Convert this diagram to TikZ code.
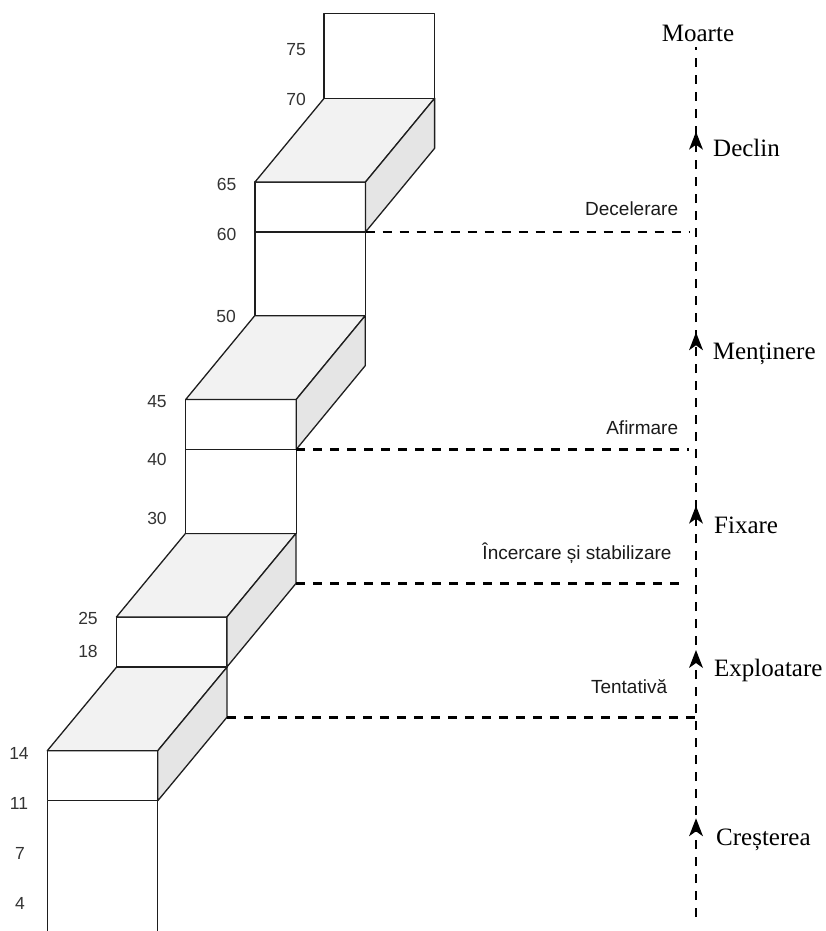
\documentclass[tikz,border=0pt]{standalone}
\usepackage{fontspec}
\setmainfont{Liberation Serif}
\setsansfont{Liberation Sans}
\usetikzlibrary{arrows.meta}

\definecolor{topface}{HTML}{F2F2F2}
\definecolor{sideface}{HTML}{E5E5E5}
\definecolor{edgeink}{HTML}{1E1E1E}
\definecolor{numink}{HTML}{333333}
\definecolor{stageink}{HTML}{1A1A1A}

% block geometry (front width, front height, depth offset)
\def\blockw{110.5}
\def\blockh{50}
\def\blockdx{69.1}

% one step of the staircase: front face, top face and right side face
% #1 name, #2 left x, #3 front top y, #4 back top y
\newcommand{\levelblock}[4]{%
  \coordinate (#1-fl)  at (#2,#3);
  \coordinate (#1-fr)  at ({#2+\blockw},#3);
  \coordinate (#1-bl)  at ({#2+\blockdx},#4);
  \coordinate (#1-br)  at ({#2+\blockw+\blockdx},#4);
  \coordinate (#1-fbr) at ({#2+\blockw},{#3+\blockh});
  \coordinate (#1-bbr) at ({#2+\blockw+\blockdx},{#4+\blockh});
  \filldraw[frontface] (#1-fl) rectangle (#1-fbr);
  \filldraw[topfacest] (#1-fl) -- (#1-bl) -- (#1-br) -- (#1-fr) -- cycle;
  \filldraw[sidefacest] (#1-fr) -- (#1-br) -- (#1-bbr) -- (#1-fbr) -- cycle;
}

\begin{document}
\begin{tikzpicture}[x=1pt,y=-1pt,
  edgeline/.style={draw=edgeink,line width=1.3pt,line join=round},
  frontface/.style={edgeline,fill=white},
  topfacest/.style={edgeline,fill=topface},
  sidefacest/.style={edgeline,fill=sideface},
  phase/.style={draw=black,line width=2.8pt,dash pattern=on 9pt off 8pt},
  agelabel/.style={inner sep=0pt,anchor=base,text=numink,font=\fontsize{17.5}{20}\sffamily},
  phaselabel/.style={inner sep=0pt,anchor=base east,text=stageink,font=\fontsize{19}{22}\sffamily},
  stagelabel/.style={inner sep=0pt,anchor=base west,text=black,font=\fontsize{25}{28}\selectfont}]

\useasboundingbox (0,0) rectangle (825,931);

% lowest column (0-11), open at the bottom
\draw[edgeline] (47.3,931) -- (47.3,800.7) -- (157.8,800.7) -- (157.8,931);

% staircase of blocks
\levelblock{sA}{47.3}{750.7}{667.3}
\levelblock{sB}{116.4}{617}{533.4}
\filldraw[frontface] (185.7,449.5) rectangle (296.2,533.4);
\levelblock{sC}{185.7}{399.5}{315.6}
\filldraw[frontface] (255,232) rectangle (365.5,315.6);
\levelblock{sD}{255}{182}{98.3}
\filldraw[frontface] (323.9,13.3) rectangle (434.4,98.3);

% age marks
\node[agelabel] (a75) at (296,55.7) {75};
\node[agelabel] (a70) at (296,105.7) {70};
\node[agelabel] (a65) at (226.5,190.7) {65};
\node[agelabel] (a60) at (226.5,240) {60};
\node[agelabel] (a50) at (226,322.7) {50};
\node[agelabel] (a45) at (157,407.4) {45};
\node[agelabel] (a40) at (157,465.4) {40};
\node[agelabel] (a30) at (157,524) {30};
\node[agelabel] (a25) at (88,624.4) {25};
\node[agelabel] (a18) at (88,657.7) {18};
\node[agelabel] (a14) at (19,759.4) {14};
\node[agelabel] (a11) at (19,809.4) {11};
\node[agelabel] (a7) at (20,859.4) {7};
\node[agelabel] (a4) at (20,909.4) {4};

% vertical time axis
\node[inner sep=0pt,anchor=base,font=\fontsize{25}{28}\selectfont] (moarte) at (698,41.7) {Moarte};
\coordinate (axtop) at (696,47);
\coordinate (axbot) at (696,917);
\coordinate (jTent) at (696,717.3);
\coordinate (jInc) at (681,583.4);
\coordinate (jAfi) at (689,449.5);
\coordinate (jDec) at (689,232);

\draw[phase] (axbot) -- (axtop);

% phase boundaries
\draw[phase] (sA-bbr) -- (jTent);
\draw[phase] (sB-bbr) -- (jInc);
\draw[phase] (sC-fbr) -- (jAfi);
\draw[phase] (sD-fbr) -- (jDec);

\node[phaselabel] (tDec) at (678.3,215) {Decelerare};
\node[phaselabel] (tAfi) at (678.3,434) {Afirmare};
\node[phaselabel] (tInc) at (671.7,559.5) {Încercare și stabilizare};
\node[phaselabel] (tTent) at (667.3,693) {Tentativă};

% direction arrowheads on the axis (notched, pointing up)
\foreach \ty in {131.7,332.3,505.7,650,818.3}{
  \fill[black] (696,\ty) -- (703,{\ty+18}) -- (696,{\ty+13}) -- (689,{\ty+18}) -- cycle;
}

\node[stagelabel] (sDeclin) at (713,156.7) {Declin};
\node[stagelabel] (sMent) at (712.7,359) {Menținere};
\node[stagelabel] (sFix) at (714,533) {Fixare};
\node[stagelabel] (sExpl) at (714,676.5) {Exploatare};
\node[stagelabel] (sCres) at (716,845) {Creșterea};

\end{tikzpicture}
\end{document}
